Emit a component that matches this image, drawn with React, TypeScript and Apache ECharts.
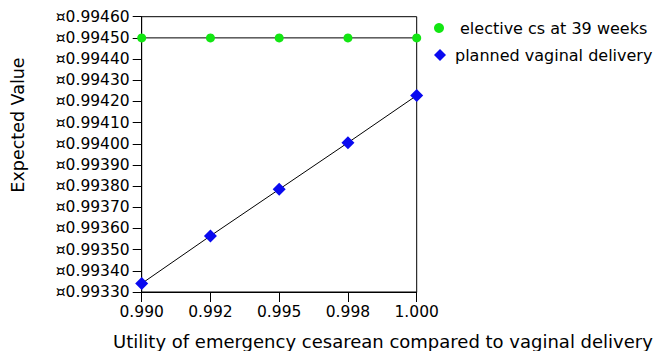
import React, { useEffect, useRef } from "react";
import * as echarts from "echarts";

const categories = ["0.990", "0.992", "0.995", "0.998", "1.000"];
const electiveCs = [0.9945, 0.9945, 0.9945, 0.9945, 0.9945];
const plannedVaginal = [0.99334, 0.993565, 0.993785, 0.994005, 0.994228];
const seriesNames = ["elective cs at 39 weeks", "planned vaginal delivery"];
const yMin = 0.9933;
const yMax = 0.9946;
const yInterval = 0.0001;
const xTitle = "Utility of emergency cesarean compared to vaginal delivery";
const yTitle = "Expected Value";

const FONT = "DejaVu Sans";

export default function App() {
  const ref = useRef<HTMLDivElement>(null);
  useEffect(() => {
    if (!ref.current) return;
    const chart = echarts.init(ref.current, undefined, { renderer: "svg" });
    chart.setOption({
      animation: false,
      backgroundColor: "#fff",
      textStyle: { fontFamily: FONT, color: "#000" },
      grid: {
        left: 141.7,
        right: 241.3,
        top: 16.7,
        bottom: 59,
        show: true,
        borderColor: "#000",
        borderWidth: 1,
      },
      legend: [
        {
          left: 434,
          top: 20,
          padding: 0,
          itemWidth: 10,
          itemHeight: 10,
          data: [{ name: seriesNames[0], icon: "circle" }],
          textStyle: { fontFamily: FONT, fontSize: 16, color: "#000", padding: [0, 0, 0, 11] },
        },
        {
          left: 434,
          top: 47,
          padding: 0,
          itemWidth: 12,
          itemHeight: 12,
          data: [{ name: seriesNames[1], icon: "diamond" }],
          textStyle: { fontFamily: FONT, fontSize: 16, color: "#000", padding: [0, 0, 0, 4] },
        },
      ],
      xAxis: {
        type: "category",
        data: categories,
        boundaryGap: false,
        axisLine: { lineStyle: { color: "#000", width: 1 } },
        axisTick: { show: true, length: 10, lineStyle: { color: "#000" } },
        axisLabel: { fontFamily: FONT, fontSize: 15.5, color: "#000", margin: 12 },
        splitLine: { show: false },
      },
      yAxis: {
        type: "value",
        min: yMin,
        max: yMax,
        interval: yInterval,
        axisLine: { show: true, lineStyle: { color: "#000", width: 1 } },
        axisTick: { show: true, length: 9, lineStyle: { color: "#000" } },
        axisLabel: {
          fontFamily: FONT,
          fontSize: 15.5,
          color: "#000",
          margin: 12,
          formatter: (v: number) => "¤" + v.toFixed(5),
        },
        splitLine: { show: false },
      },
      graphic: [
        {
          type: "text",
          x: 18,
          y: 125,
          rotation: Math.PI / 2,
          style: {
            text: yTitle,
            fontFamily: FONT,
            fontSize: 17.5,
            fill: "#000",
            align: "center",
            verticalAlign: "middle",
          },
        },
        {
          type: "text",
          x: 383,
          y: 341,
          style: {
            text: xTitle,
            fontFamily: FONT,
            fontSize: 18,
            fill: "#000",
            align: "center",
            verticalAlign: "middle",
          },
        },
      ],
      series: [
        {
          name: seriesNames[0],
          type: "line",
          data: electiveCs,
          symbol: "circle",
          symbolSize: 9,
          itemStyle: { color: "#12e612" },
          lineStyle: { color: "#000", width: 1 },
          z: 3,
        },
        {
          name: seriesNames[1],
          type: "line",
          data: plannedVaginal,
          symbol: "diamond",
          symbolSize: 13,
          itemStyle: { color: "#0a0af0" },
          lineStyle: { color: "#000", width: 1 },
          z: 3,
        },
      ],
    });
    return () => chart.dispose();
  }, []);
  return (
    <div
      ref={ref}
      style={{ position: "fixed", left: 0, top: 0, width: 658, height: 351, background: "#fff" }}
    />
  );
}
